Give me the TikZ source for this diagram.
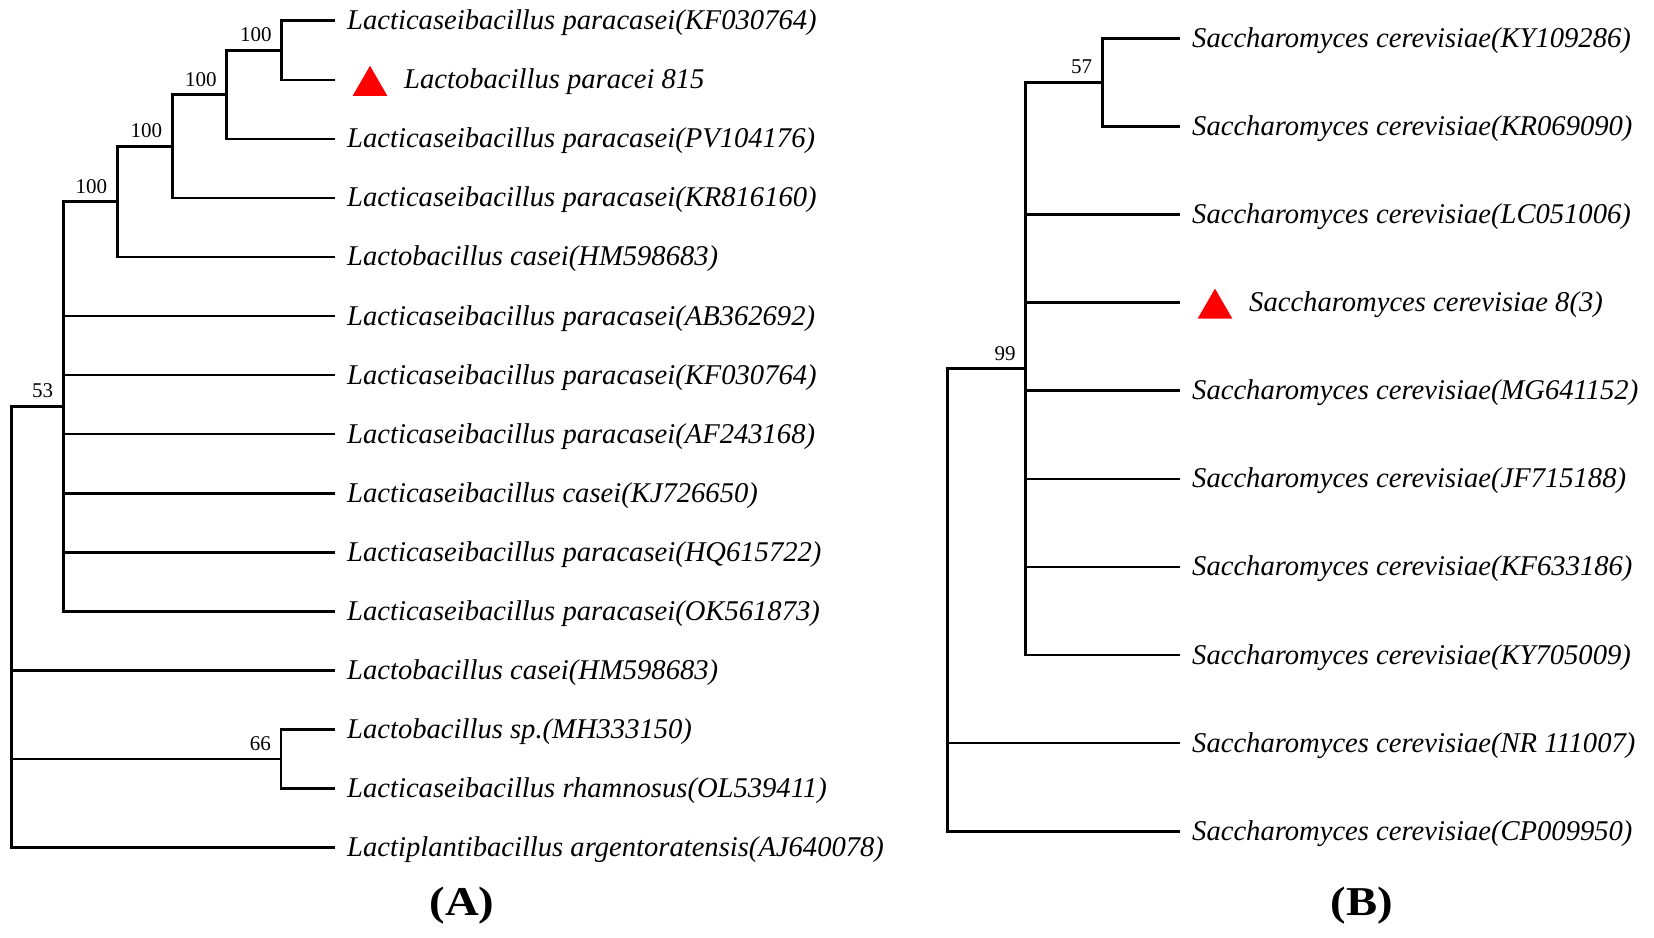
\documentclass[tikz,border=0pt]{standalone}
\usepackage{fontspec}
\setmainfont{Liberation Serif}
\usetikzlibrary{shapes.geometric}
\begin{document}
\begin{tikzpicture}[x=1pt,y=-1pt,
  branch/.style={line width=2.6pt, line join=miter},
  leaflab/.style={anchor=base west, inner sep=0pt, xshift=12pt, yshift=-9pt, font=\fontsize{28.6}{34}\selectfont\itshape},
  marklab/.style={leaflab, xshift=57pt},
  boot/.style={anchor=base east, inner sep=0pt, xshift=-10pt, yshift=8.5pt, font=\fontsize{21}{25}\selectfont},
  marker/.style={regular polygon, regular polygon sides=3, fill=red, draw=none, minimum size=40pt, inner sep=0pt},
  panel/.style={font=\fontsize{41}{48}\selectfont\bfseries, inner sep=0pt, xscale=1.14}]
\useasboundingbox (0,0) rectangle (1654,937);

% ---------- tree A ----------
\foreach \i/\y in {0/20.7,1/79.8,2/138.8,3/197.9,4/256.9,5/316.0,6/375.1,7/434.1,8/493.2,9/552.2,10/611.3,11/670.4,12/729.4,13/788.5,14/847.5}
  \coordinate (a\i) at (335,\y);

\coordinate (nA1) at (281.7,50.25);
\coordinate (nA2) at (226.7,94.5);
\coordinate (nA3) at (172.3,146.2);
\coordinate (nA4) at (117.3,201.6);
\coordinate (nA5) at (63.3,406.4);
\coordinate (nA6) at (281,759);
\coordinate (rA) at (11.7,627);

\draw[branch] (nA1) |- (a0);
\draw[branch] (nA1) |- (a1);
\draw[branch] (nA2) |- (nA1);
\draw[branch] (nA2) |- (a2);
\draw[branch] (nA3) |- (nA2);
\draw[branch] (nA3) |- (a3);
\draw[branch] (nA4) |- (nA3);
\draw[branch] (nA4) |- (a4);
\draw[branch] (nA5) |- (nA4);
\foreach \i in {5,...,10} \draw[branch] (nA5) |- (a\i);
\draw[branch] (nA6) |- (a12);
\draw[branch] (nA6) |- (a13);
\draw[branch] (rA) |- (nA5);
\draw[branch] (rA) |- (a11);
\draw[branch] (rA) |- (nA6);
\draw[branch] (rA) |- (a14);

\node[boot] (bA1) at (nA1) {100};
\node[boot] (bA2) at (nA2) {100};
\node[boot] (bA3) at (nA3) {100};
\node[boot] (bA4) at (nA4) {100};
\node[boot] (bA5) at (nA5) {53};
\node[boot] (bA6) at (nA6) {66};

\node[leaflab] (ta0) at (a0) {Lacticaseibacillus paracasei(KF030764)};
\node[marker] (mA) at ([shift={(35,6)}]a1) {};
\node[marklab] (ta1) at (a1) {Lactobacillus paracei 815};
\node[leaflab] (ta2) at (a2) {Lacticaseibacillus paracasei(PV104176)};
\node[leaflab] (ta3) at (a3) {Lacticaseibacillus paracasei(KR816160)};
\node[leaflab] (ta4) at (a4) {Lactobacillus casei(HM598683)};
\node[leaflab] (ta5) at (a5) {Lacticaseibacillus paracasei(AB362692)};
\node[leaflab] (ta6) at (a6) {Lacticaseibacillus paracasei(KF030764)};
\node[leaflab] (ta7) at (a7) {Lacticaseibacillus paracasei(AF243168)};
\node[leaflab] (ta8) at (a8) {Lacticaseibacillus casei(KJ726650)};
\node[leaflab] (ta9) at (a9) {Lacticaseibacillus paracasei(HQ615722)};
\node[leaflab] (ta10) at (a10) {Lacticaseibacillus paracasei(OK561873)};
\node[leaflab] (ta11) at (a11) {Lactobacillus casei(HM598683)};
\node[leaflab] (ta12) at (a12) {Lactobacillus sp.(MH333150)};
\node[leaflab] (ta13) at (a13) {Lacticaseibacillus rhamnosus(OL539411)};
\node[leaflab] (ta14) at (a14) {Lactiplantibacillus argentoratensis(AJ640078)};

\node[panel] (pA) at (462,906) {(A)};

% ---------- tree B ----------
\foreach \i/\y in {0/38.3,1/126.4,2/214.5,3/302.6,4/390.7,5/478.8,6/566.9,7/655.0,8/743.1,9/831.2}
  \coordinate (b\i) at (1180,\y);

\coordinate (nB1) at (1102.3,82.35);
\coordinate (nB2) at (1025.7,368.7);
\coordinate (rB) at (947.3,600);

\draw[branch] (nB1) |- (b0);
\draw[branch] (nB1) |- (b1);
\draw[branch] (nB2) |- (nB1);
\foreach \i in {2,...,7} \draw[branch] (nB2) |- (b\i);
\draw[branch] (rB) |- (nB2);
\draw[branch] (rB) |- (b8);
\draw[branch] (rB) |- (b9);

\node[boot] (bB1) at (nB1) {57};
\node[boot] (bB2) at (nB2) {99};

\node[leaflab] (tb0) at (b0) {Saccharomyces cerevisiae(KY109286)};
\node[leaflab] (tb1) at (b1) {Saccharomyces cerevisiae(KR069090)};
\node[leaflab] (tb2) at (b2) {Saccharomyces cerevisiae(LC051006)};
\node[marker] (mB) at ([shift={(35,6)}]b3) {};
\node[marklab] (tb3) at (b3) {Saccharomyces cerevisiae 8(3)};
\node[leaflab] (tb4) at (b4) {Saccharomyces cerevisiae(MG641152)};
\node[leaflab] (tb5) at (b5) {Saccharomyces cerevisiae(JF715188)};
\node[leaflab] (tb6) at (b6) {Saccharomyces cerevisiae(KF633186)};
\node[leaflab] (tb7) at (b7) {Saccharomyces cerevisiae(KY705009)};
\node[leaflab] (tb8) at (b8) {Saccharomyces cerevisiae(NR 111007)};
\node[leaflab] (tb9) at (b9) {Saccharomyces cerevisiae(CP009950)};

\node[panel] (pB) at (1362,906) {(B)};
\end{tikzpicture}
\end{document}
